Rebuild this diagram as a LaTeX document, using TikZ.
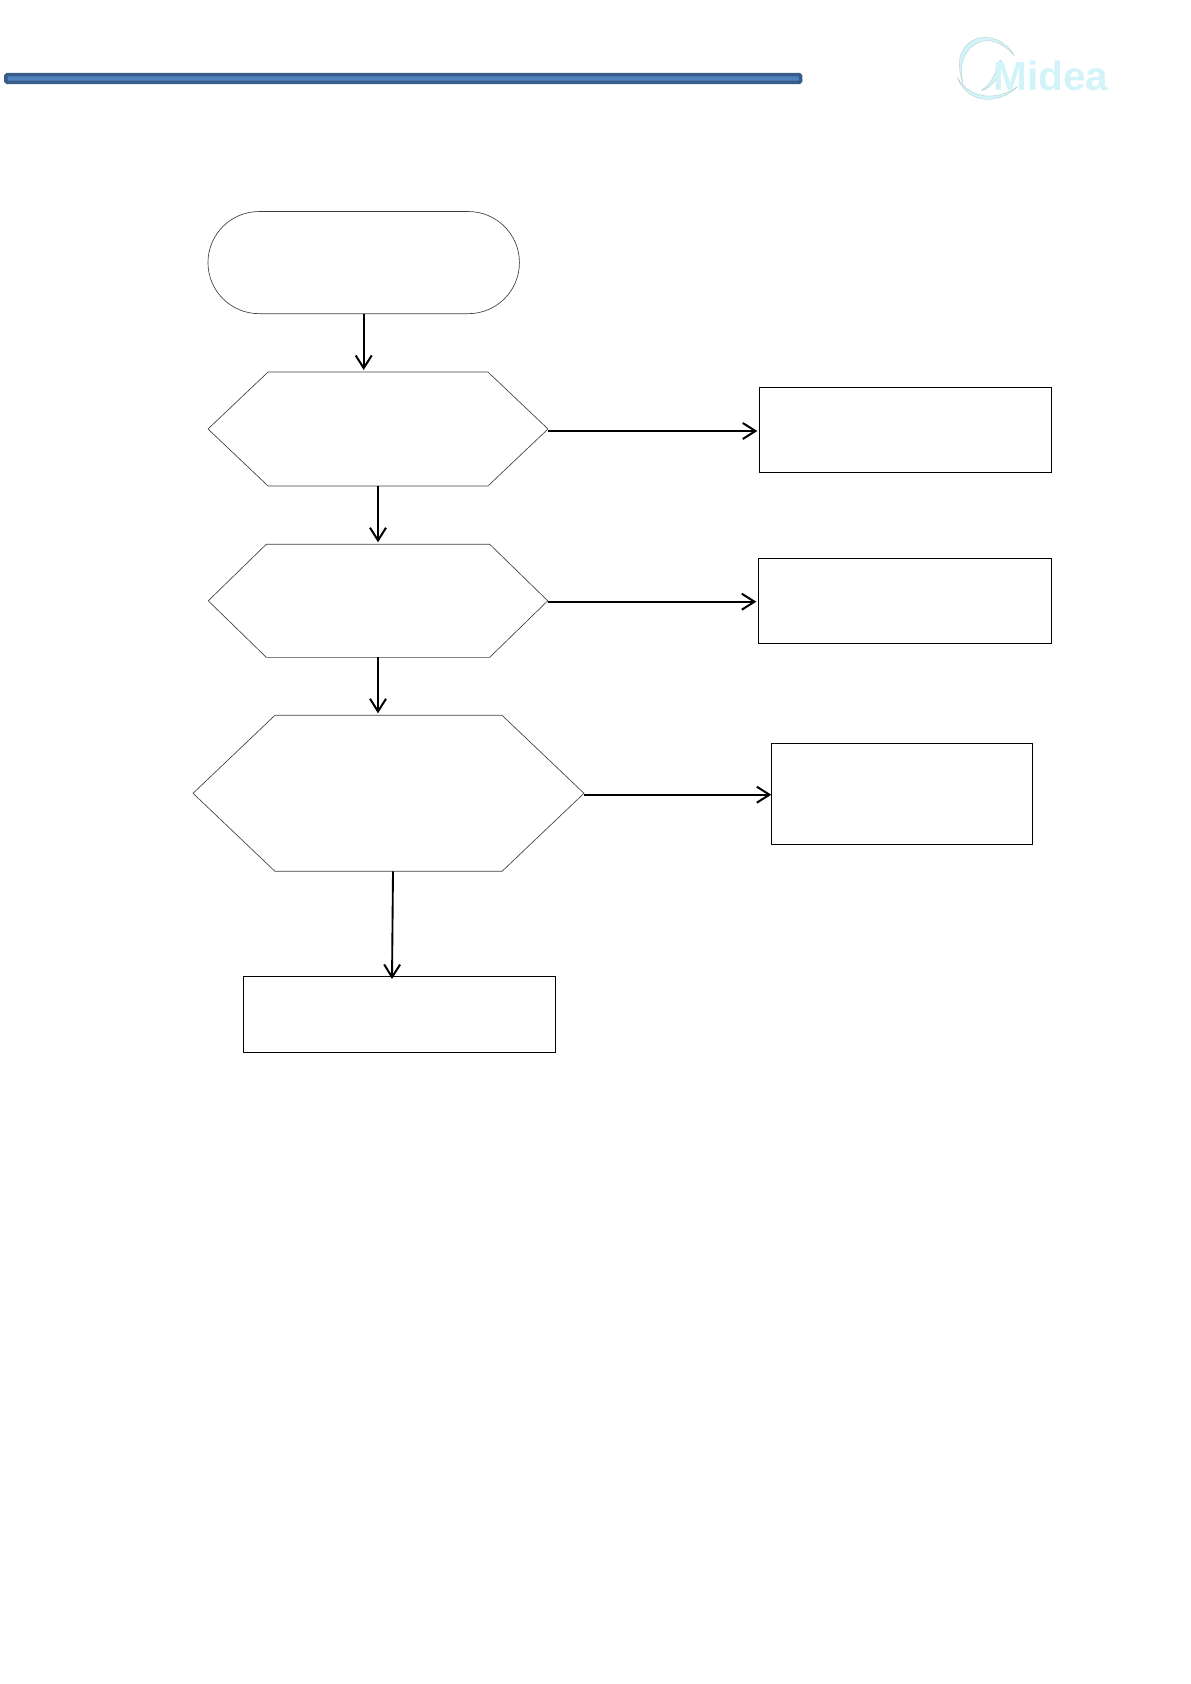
\documentclass[tikz,border=0pt]{standalone}
\usepackage{fontspec}
\setsansfont{Liberation Sans}
\usetikzlibrary{arrows.meta,shapes.misc,shapes.symbols}
\definecolor{bardark}{HTML}{385D8A}
\definecolor{barfill}{HTML}{4F81BD}
\definecolor{logocyan}{HTML}{D2F4F8}

\begin{document}
\begin{tikzpicture}[x=0.75pt,y=-0.75pt,
    flowarrow/.style={line width=1.4pt,shorten >=1.5pt,-{Straight Barb[length=9.5pt,width=12pt,line width=1.5pt]}},
    thinline/.style={draw=black!75,line width=0.5pt,inner sep=0pt,outer sep=0pt},
    hexa/.style={thinline,signal,signal to=west and east}]

      \useasboundingbox (0,0) rectangle (1191,1684);

      \node[draw=bardark,fill=barfill,line width=2.6pt,rounded corners=1pt,inner sep=0pt,outer sep=0pt,
            minimum width=596pt,minimum height=5.8pt] (bar) at (403.2,78.5) {};

      \begin{scope}[shift={(920,20)},scale=0.3333,fill=logocyan,draw=black!20!logocyan,line width=0.2pt]
        \filldraw (283,107) .. controls (262,70) and (228,52) .. (195,52) .. controls (150,52) and (118,88) .. (118,130)
          .. controls (118,155) and (124,178) .. (130,192) .. controls (122,165) and (122,130) .. (135,105)
          .. controls (150,78) and (180,60) .. (205,62) .. controls (235,64) and (265,85) .. (283,107);
        \filldraw (112,172) .. controls (125,210) and (160,238) .. (200,238) .. controls (240,238) and (272,222) .. (292,200)
          .. controls (265,218) and (235,230) .. (200,228) .. controls (165,226) and (130,205) .. (112,172);
        \filldraw (185,210) .. controls (215,195) and (230,150) .. (238,122) -- (246,122)
          .. controls (240,170) and (215,205) .. (185,212);
      \end{scope}
      \node[text=logocyan,font=\sffamily\bfseries\fontsize{30.5pt}{31pt}\selectfont,anchor=base west,inner sep=0pt] (logo) at (993,90) {Midea};

      \begin{scope}[every node/.style={thinline}]
        \node[rounded rectangle,minimum width=233.6pt,minimum height=76.6pt] (start) at (363.7,262.6) {};
      \end{scope}

      \begin{scope}[every node/.style={hexa}]
        \node[minimum width=255pt,minimum height=85.5pt,signal pointer angle=87] (hex1) at (378,429) {};
        \node[minimum width=254.6pt,minimum height=84.8pt,signal pointer angle=88.5] (hex2) at (378,600.8) {};
        \node[minimum width=293.2pt,minimum height=117pt,signal pointer angle=87.2] (hex3) at (388.5,793.3) {};
      \end{scope}

      \begin{scope}[every node/.style={draw,line width=0.75pt,inner sep=0pt,outer sep=0pt}]
        \node[minimum width=219.3pt,minimum height=63.8pt] (box1) at (905.5,429.8) {};
        \node[minimum width=220pt,minimum height=63.8pt] (box2) at (905,600.8) {};
        \node[minimum width=196pt,minimum height=75.8pt] (box3) at (902,793.8) {};
        \node[minimum width=234.3pt,minimum height=57pt] (box4) at (399.5,1014.3) {};
      \end{scope}

      \coordinate (out1) at (547.5,431);
      \coordinate (out2) at (547.5,601.7);
      \coordinate (out3) at (584,794.7);
      \coordinate (out4) at (393,871.3);
      \coordinate (in4) at (392,979);

      \draw[flowarrow] (start.south) -- (start.south |- hex1.north);
      \draw[flowarrow] (hex1.south) -- (hex2.north);
      \draw[flowarrow] (hex2.south) -- (hex2.south |- hex3.north);
      \draw[flowarrow,shorten >=0pt] (out4) -- (in4);
      \draw[flowarrow] (out1) -- (out1 -| box1.west);
      \draw[flowarrow] (out2) -- (out2 -| box2.west);
      \draw[flowarrow,shorten >=0pt] (out3) -- (out3 -| box3.west);

    \end{tikzpicture}
\end{document}
